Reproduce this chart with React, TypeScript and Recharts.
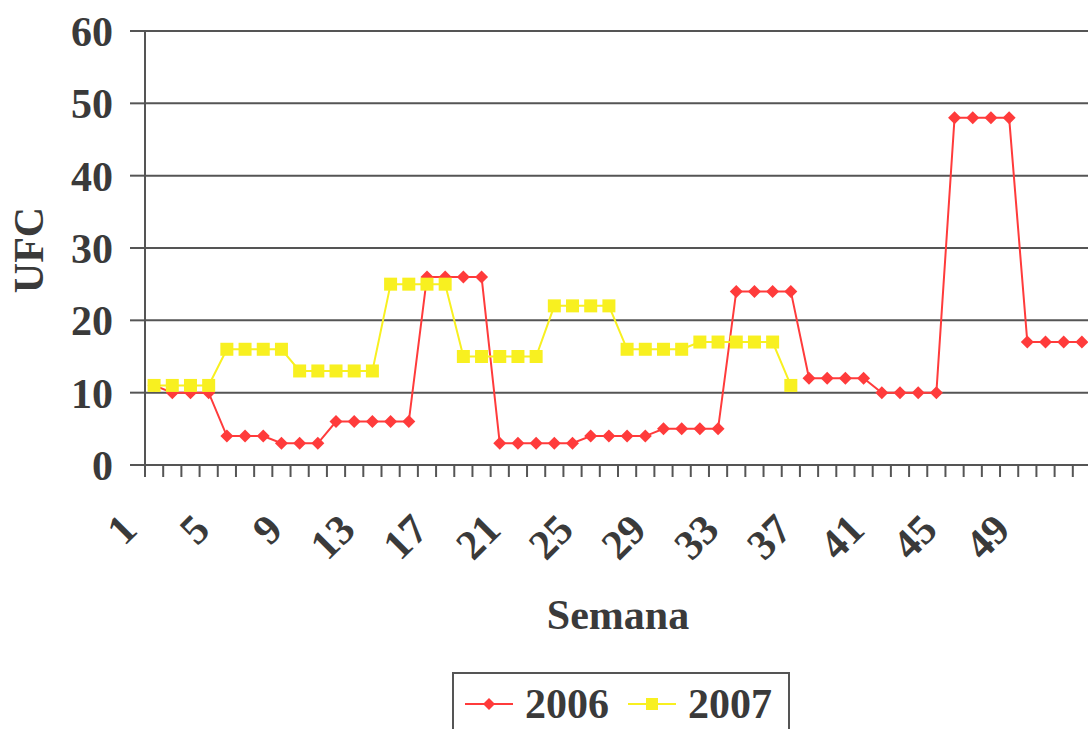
import { LineChart, Line, XAxis, YAxis, CartesianGrid, Legend } from "recharts";

const WEEKS = [
  1, 2, 3, 4, 5, 6, 7, 8, 9, 10, 11, 12, 13, 14, 15, 16, 17, 18, 19, 20, 21, 22, 23, 24, 25, 26,
  27, 28, 29, 30, 31, 32, 33, 34, 35, 36, 37, 38, 39, 40, 41, 42, 43, 44, 45, 46, 47, 48, 49, 50, 51, 52,
];
const LABEL_WEEKS = [1, 5, 9, 13, 17, 21, 25, 29, 33, 37, 41, 45, 49];
const Y_TICKS = [0, 10, 20, 30, 40, 50, 60];

const UFC_2006 = [
  11, 10, 10, 10, 4, 4, 4, 3, 3, 3, 6, 6, 6, 6, 6, 26, 26, 26, 26, 3, 3, 3, 3, 3, 4, 4,
  4, 4, 5, 5, 5, 5, 24, 24, 24, 24, 12, 12, 12, 12, 10, 10, 10, 10, 48, 48, 48, 48, 17, 17, 17, 17,
];
const UFC_2007 = [
  11, 11, 11, 11, 16, 16, 16, 16, 13, 13, 13, 13, 13, 25, 25, 25, 25, 15, 15, 15, 15, 15,
  22, 22, 22, 22, 16, 16, 16, 16, 17, 17, 17, 17, 17, 11,
];

const RED = "#ff3b3b";
const YELLOW = "#f8f020";
const INK = "#3a3a3a";
const FONT = "'Liberation Serif', 'Times New Roman', serif";
const FONT_SIZE = 42;

const data = WEEKS.map((week, i) => ({
  week,
  y2006: UFC_2006[i] ?? null,
  y2007: UFC_2007[i] ?? null,
}));

const boundaries = [...WEEKS.map((w) => w - 0.5), WEEKS[WEEKS.length - 1] + 0.5];

function Diamond({ cx, cy, size = 6.5 }: { cx: number; cy: number; size?: number }) {
  return (
    <path
      d={`M${cx},${cy - size} L${cx + size},${cy} L${cx},${cy + size} L${cx - size},${cy} Z`}
      fill={RED}
    />
  );
}

function Square({ cx, cy, size = 6.5 }: { cx: number; cy: number; size?: number }) {
  return <rect x={cx - size} y={cy - size} width={size * 2} height={size * 2} fill={YELLOW} />;
}

function WeekTick(props: any) {
  const { x, y, payload } = props;
  const week = payload.value + 0.5;
  if (!LABEL_WEEKS.includes(week)) return <g />;
  const tx = x - 6;
  const ty = y + 55;
  return (
    <text
      x={tx}
      y={ty}
      transform={`rotate(-45 ${tx} ${ty})`}
      textAnchor="end"
      fontFamily={FONT}
      fontWeight="bold"
      fontSize={FONT_SIZE}
      fill={INK}
    >
      {week}
    </text>
  );
}

function LegendBox() {
  const item = (color: string, label: string, marker: "diamond" | "square") => (
    <div style={{ display: "flex", alignItems: "center", marginRight: 19 }}>
      <svg width={48} height={20} style={{ marginRight: 12 }}>
        <line x1={0} y1={10} x2={48} y2={10} stroke={color} strokeWidth={2} />
        {marker === "diamond" ? <Diamond cx={24} cy={10} size={6} /> : <Square cx={24} cy={10} size={6} />}
      </svg>
      <span>{label}</span>
    </div>
  );
  return (
    <div
      style={{
        boxSizing: "border-box",
        width: 338,
        height: 70,
        border: "2px solid #555",
        display: "flex",
        alignItems: "flex-start",
        paddingLeft: 11,
        paddingTop: 9,
        fontFamily: FONT,
        fontWeight: "bold",
        fontSize: FONT_SIZE,
        color: INK,
        lineHeight: "42px",
        background: "#fff",
      }}
    >
      {item(RED, "2006", "diamond")}
      {item(YELLOW, "2007", "square")}
    </div>
  );
}

export default function App() {
  return (
    <div
      style={{
        position: "fixed",
        left: 0,
        top: 0,
        width: 1088,
        height: 729,
        overflow: "hidden",
        background: "#fff",
      }}
    >
      <LineChart width={1100} height={729} data={data} margin={{ top: 31, right: 9, bottom: 0, left: 0 }}>
        <CartesianGrid vertical={false} stroke="#555" strokeWidth={2} />
        <XAxis
          dataKey="week"
          type="number"
          domain={[0.5, 52.5]}
          ticks={boundaries}
          interval={0}
          allowDataOverflow
          height={264}
          tickSize={12}
          tickMargin={0}
          tick={<WeekTick />}
          stroke="#555"
          strokeWidth={2}
          label={{
            content: (p: any) => (
              <text
                x={p.viewBox.x + p.viewBox.width / 2}
                y={629}
                textAnchor="middle"
                fontFamily={FONT}
                fontWeight="bold"
                fontSize={FONT_SIZE}
                fill={INK}
              >
                Semana
              </text>
            ),
          }}
        />
        <YAxis
          width={145}
          domain={[0, 60]}
          ticks={Y_TICKS}
          tickSize={15}
          tickMargin={17}
          stroke="#555"
          strokeWidth={2}
          tick={{ fontFamily: FONT, fontWeight: "bold", fontSize: FONT_SIZE, fill: INK }}
          label={{
            content: () => (
              <text
                x={43}
                y={250}
                transform="rotate(-90 43 250)"
                textAnchor="middle"
                fontFamily={FONT}
                fontWeight="bold"
                fontSize={FONT_SIZE}
                fill={INK}
              >
                UFC
              </text>
            ),
          }}
        />
        <Legend
          verticalAlign="middle"
          wrapperStyle={{ left: 452, top: 672 }}
          content={() => <LegendBox />}
        />
        <Line
          dataKey="y2006"
          name="2006"
          stroke={RED}
          strokeWidth={2}
          isAnimationActive={false}
          dot={(p: any) => <Diamond key={`r-${p.index}`} cx={p.cx} cy={p.cy} />}
          activeDot={false}
        />
        <Line
          dataKey="y2007"
          name="2007"
          stroke={YELLOW}
          strokeWidth={2}
          isAnimationActive={false}
          connectNulls={false}
          dot={(p: any) =>
            p.value == null ? <g key={`y-${p.index}`} /> : <Square key={`y-${p.index}`} cx={p.cx} cy={p.cy} />
          }
          activeDot={false}
        />
      </LineChart>
    </div>
  );
}
